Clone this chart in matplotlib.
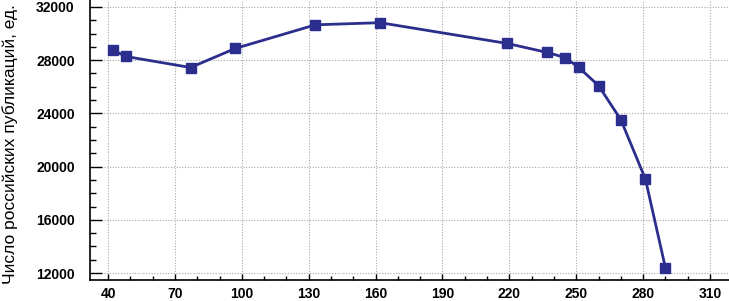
import numpy as np
import matplotlib
matplotlib.use("Agg")
import matplotlib.pyplot as plt
from matplotlib.ticker import MultipleLocator

# values
x_vals = [42, 48, 77, 97, 133, 162, 219, 237, 245, 251, 260, 270, 281, 290]
y_vals = [28780, 28280, 27450, 28880, 30660, 30820, 29260, 28580,
          28200, 27470, 26090, 23520, 19070, 12380]
x_ticks = [40, 70, 100, 130, 160, 190, 220, 250, 280, 310]
y_ticks = [12000, 16000, 20000, 24000, 28000, 32000]
y_label = "Число российских публикаций, ед."

plt.rcParams['font.family'] = ['Liberation Sans', 'DejaVu Sans']

fig = plt.figure(figsize=(7.29, 3.01), dpi=100)
ax = fig.add_axes([90 / 729, 21 / 301, 639 / 729, 280 / 301])

ax.plot(x_vals, y_vals, color='#2b2e8c', lw=2.0, marker='s', ms=7,
        mfc='#2b2e8c', mec='#2b2e8c', zorder=3)

ax.set_xlim(31.9, 318.5)
ax.set_ylim(11474, 32526)
ax.set_xticks(x_ticks)
ax.set_yticks(y_ticks)
ax.xaxis.set_minor_locator(MultipleLocator(10))
ax.yaxis.set_minor_locator(MultipleLocator(1000))

ax.grid(True, which='major', color='#a8a8a8', ls=(0, (1, 1.5)), lw=0.8)

for s in ['top', 'right']:
    ax.spines[s].set_visible(False)
for s in ['left', 'bottom']:
    ax.spines[s].set_linewidth(1.2)
    ax.spines[s].set_color('black')

ax.tick_params(axis='y', which='major', direction='in', length=8.6, width=1.0, pad=11)
ax.tick_params(axis='y', which='minor', direction='in', length=4.3, width=1.0)
ax.tick_params(axis='x', which='major', direction='in', length=4.3, width=1.0, pad=5)
ax.tick_params(axis='x', which='minor', direction='in', length=2.8, width=1.0)

for lab in ax.get_xticklabels() + ax.get_yticklabels():
    lab.set_fontweight('bold')
    lab.set_fontsize(10)

ax.set_ylabel(y_label, fontsize=12.5)
ax.yaxis.set_label_coords(-0.112, 0.485)

fig.savefig('out.png', dpi=100)
